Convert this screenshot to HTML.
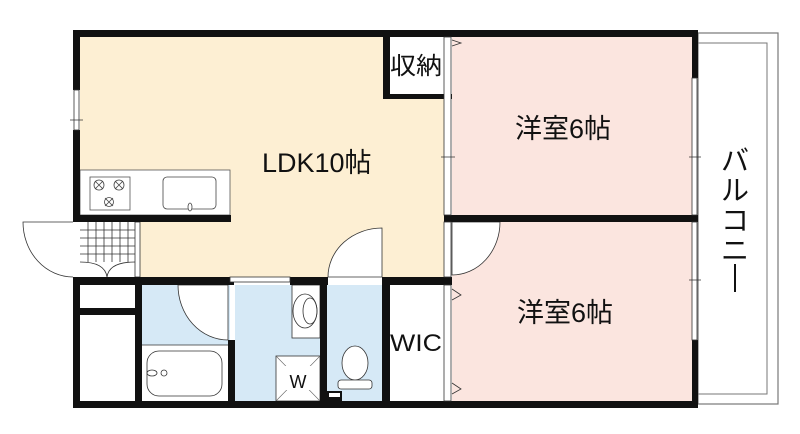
<!DOCTYPE html>
<html><head><meta charset="utf-8"><style>
body{margin:0;background:#fff}
svg{display:block}
text{font-family:"Liberation Sans","Noto Sans CJK JP",sans-serif;fill:#111}
</style></head><body>
<svg width="800" height="434" viewBox="0 0 800 434" xmlns="http://www.w3.org/2000/svg">
<rect x="80" y="37" width="364" height="240" fill="#fdefd3"/>
<rect x="452" y="37" width="240" height="364" fill="#fbe5df"/>
<rect x="390" y="37" width="54" height="57" fill="#fff"/>
<rect x="142" y="285" width="88" height="116" fill="#d6e9f6"/>
<rect x="235" y="285" width="85" height="116" fill="#d6e9f6"/>
<rect x="327" y="285" width="55" height="116" fill="#d6e9f6"/>
<rect x="390" y="285" width="54" height="116" fill="#fff"/>
<rect x="80" y="285" width="55" height="116" fill="#fff"/>
<rect x="80" y="222" width="60" height="55" fill="#fff"/>
<rect x="698" y="33" width="80" height="371" fill="#fff" stroke="#777" stroke-width="1.2"/>
<rect x="698" y="43" width="69" height="351" fill="none" stroke="#777" stroke-width="1"/>
<rect x="80" y="170" width="150" height="45" fill="#fff" stroke="#555" stroke-width="0.8"/>
<rect x="90" y="177" width="40" height="33" fill="#fff" stroke="#555" stroke-width="0.8"/>
<g fill="none" stroke="#444" stroke-width="0.8">
<circle cx="99" cy="185" r="5"/><circle cx="119" cy="185" r="5"/><circle cx="109" cy="202" r="4.5"/>
<path d="M95 181L103 189M103 181L95 189M115 181L123 189M123 181L115 189M105 198L113 206M113 198L105 206"/>
<rect x="163" y="177" width="53" height="32" rx="4"/>
<ellipse cx="190" cy="207" rx="2" ry="4" fill="#fff"/>
</g>
<g stroke="#333" stroke-width="0.8">
<path d="M80 230H140M80 238H140M80 246H140M80 254H140M88 222V262M96 222V262M104 222V262M112 222V262M120 222V262M128 222V262"/>
</g>
<path d="M80 262Q105 262 107 277Q109 262 135 262" fill="#fff" stroke="#333" stroke-width="0.8"/>
<rect x="135" y="222" width="5" height="55" fill="#fff" stroke="#333" stroke-width="0.8"/>
<path d="M73 222H23A50 55 0 0 0 73 277" fill="#fff" stroke="#333" stroke-width="0.8"/>
<path d="M382 228A54 49 0 0 0 328 277H382Z" fill="#fff" stroke="#333" stroke-width="0.8"/>
<path d="M452 222H500A48 53 0 0 1 452 275Z" fill="#fff" stroke="#333" stroke-width="0.8"/>
<path d="M178 285A50 55 0 0 0 228 340V285Z" fill="#fff" stroke="#333" stroke-width="0.8"/>
<rect x="142" y="345" width="88" height="56" fill="#fff"/>
<line x1="142" y1="345" x2="230" y2="345" stroke="#333" stroke-width="0.8"/>
<rect x="147" y="351" width="75" height="45" rx="12" fill="#fff" stroke="#333" stroke-width="0.8"/>
<ellipse cx="152" cy="373" rx="5" ry="3" fill="#fff" stroke="#333" stroke-width="0.8"/>
<circle cx="164" cy="373" r="3" fill="#fff" stroke="#333" stroke-width="0.8"/>
<rect x="292" y="285" width="28" height="53" fill="#fff" stroke="#333" stroke-width="0.8"/>
<ellipse cx="305" cy="311" rx="12" ry="17" fill="#fff" stroke="#333" stroke-width="0.8"/>
<ellipse cx="310" cy="311" rx="7" ry="13" fill="none" stroke="#333" stroke-width="0.8"/>
<rect x="276" y="356" width="44" height="45" fill="#fff" stroke="#333" stroke-width="0.8"/>
<path d="M276 356L320 401M320 356L276 401" stroke="#666" stroke-width="0.6"/>
<rect x="284" y="366" width="28" height="24" fill="#fff"/>
<text x="298" y="388" font-size="18" text-anchor="middle">W</text>
<ellipse cx="355" cy="363" rx="13" ry="17" fill="#fff" stroke="#333" stroke-width="0.8"/>
<rect x="338" y="380" width="34" height="9" rx="3" fill="#fff" stroke="#333" stroke-width="0.8"/>
<rect x="327" y="391" width="15" height="10" fill="#111"/><rect x="329" y="393" width="11" height="4" fill="#fff"/>
<g fill="#111">
<rect x="73" y="30" width="625" height="7"/>
<rect x="73" y="401" width="625" height="7"/>
<rect x="73" y="30" width="7" height="60"/>
<rect x="73" y="130" width="7" height="92"/>
<rect x="73" y="277" width="7" height="131"/>
<rect x="692" y="30" width="6" height="48"/>
<rect x="692" y="340" width="6" height="68"/>
<rect x="692" y="215" width="6" height="7"/>
<rect x="383" y="30" width="7" height="69"/>
<rect x="383" y="94" width="69" height="5"/>
<rect x="444" y="215" width="254" height="7"/>
<rect x="73" y="215" width="158" height="7"/>
<rect x="73" y="277" width="161" height="8"/>
<rect x="290" y="277" width="38" height="8"/>
<rect x="382" y="277" width="70" height="8"/>
<rect x="135" y="277" width="7" height="131"/>
<rect x="80" y="308" width="55" height="7"/>
<rect x="228" y="340" width="7" height="68"/>
<rect x="320" y="285" width="7" height="123"/>
<rect x="382" y="285" width="8" height="123"/>
<rect x="444" y="401" width="8" height="7"/>
</g>
<g fill="#fff" stroke="#333" stroke-width="0.8">
<rect x="74" y="90" width="5" height="40"/>
<rect x="692" y="78" width="5" height="137"/>
<rect x="692" y="222" width="5" height="118"/>
<rect x="444" y="37" width="7" height="178"/>
<rect x="444" y="222" width="7" height="55"/>
<rect x="444" y="285" width="7" height="116"/>
<rect x="230" y="277" width="60" height="5"/>
</g>
<g stroke="#333" stroke-width="0.8" fill="none">
<path d="M70 120H83M441 157H455M689 157H701M689 280H701"/>
<path d="M452 40L461 43L452 46M452 289L461 295L452 300M452 383L461 389L452 394"/>
</g>
<text x="262" y="172" font-size="27">LDK10帖</text>
<text x="390" y="74" font-size="24" textLength="52" lengthAdjust="spacingAndGlyphs">収納</text>
<text x="515" y="138" font-size="27">洋室6帖</text>
<text x="517" y="322" font-size="27">洋室6帖</text>
<text x="390" y="351" font-size="24" textLength="52" lengthAdjust="spacingAndGlyphs">WIC</text>
<text x="735" y="170" font-size="28" text-anchor="middle">バ</text>
<text x="735" y="200" font-size="28" text-anchor="middle">ル</text>
<text x="735" y="230" font-size="28" text-anchor="middle">コ</text>
<text x="735" y="260" font-size="28" text-anchor="middle">ニ</text>
<line x1="735" y1="264" x2="735" y2="292" stroke="#111" stroke-width="2"/>
</svg>
</body></html>
